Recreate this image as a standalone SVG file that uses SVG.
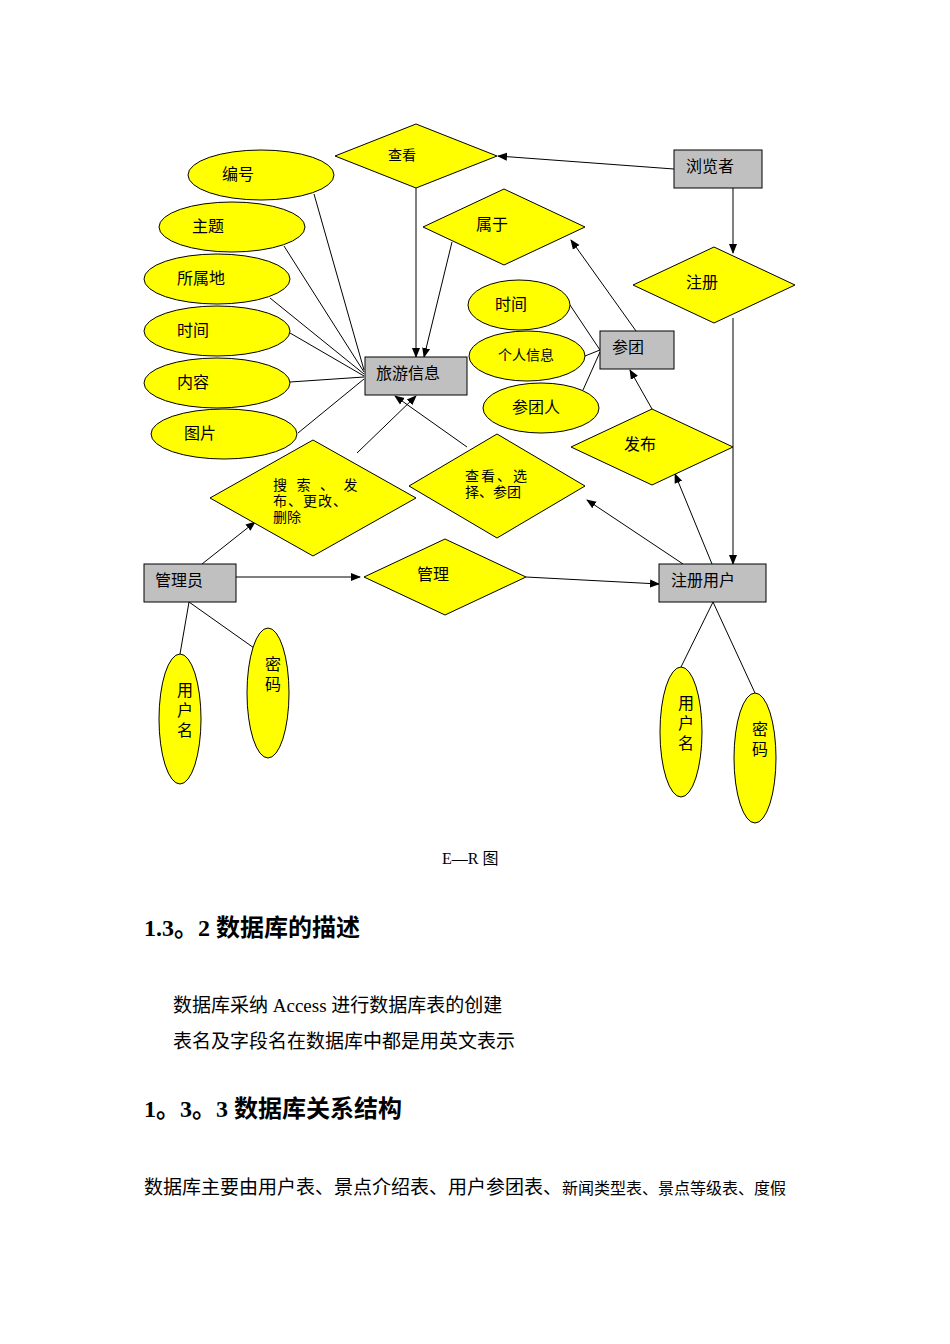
<svg xmlns="http://www.w3.org/2000/svg" width="950" height="1344" viewBox="0 0 950 1344">
<style>
.e{fill:#ffff00;stroke:#000;stroke-width:1}
.r{fill:#c0c0c0;stroke:#000;stroke-width:1}
.t{font-family:"Liberation Serif","Noto Sans CJK SC",serif;font-size:16px;fill:#000}
.s{font-family:"Liberation Serif","Noto Sans CJK SC",serif;font-size:14px;fill:#000}
.h{font-family:"Liberation Serif","Noto Sans CJK SC",serif;font-size:24px;font-weight:bold;fill:#000}
.b{font-family:"Liberation Serif","Noto Sans CJK SC",serif;font-size:19px;fill:#000}
#c line{stroke:#000;stroke-width:1}
.a{marker-end:url(#ar)}
</style>
<defs><marker id="ar" markerWidth="10" markerHeight="10" refX="9" refY="5" orient="auto" markerUnits="userSpaceOnUse"><path d="M0,1 L10,5 L0,9 Z" fill="#000"/></marker></defs>
<rect width="950" height="1344" fill="#fff"/>
<g id="c">
<line x1="314" y1="194" x2="364" y2="370"/><line x1="284" y1="246" x2="364" y2="372"/><line x1="270" y1="298" x2="364" y2="374"/><line x1="290" y1="333" x2="364" y2="376"/><line x1="290" y1="382" x2="364" y2="377"/><line x1="298" y1="433" x2="364" y2="379"/>
<line class="a" x1="416" y1="188" x2="416" y2="357"/>
<line class="a" x1="452" y1="242" x2="424" y2="357"/>
<line class="a" x1="674" y1="169" x2="498" y2="156"/>
<line class="a" x1="733" y1="188" x2="733" y2="253"/>
<line class="a" x1="733" y1="318" x2="733" y2="564"/>
<line class="a" x1="636" y1="331" x2="571" y2="240"/>
<line x1="570" y1="305" x2="600" y2="350"/><line x1="585" y1="356" x2="600" y2="350"/><line x1="583" y1="390" x2="600" y2="352"/>
<line class="a" x1="652" y1="409" x2="630" y2="370"/>
<line class="a" x1="712" y1="564" x2="675" y2="474"/>
<line class="a" x1="683" y1="564" x2="587" y2="500"/>
<line class="a" x1="467" y1="447" x2="395" y2="396"/>
<line class="a" x1="357" y1="453" x2="416" y2="396"/>
<line class="a" x1="202" y1="564" x2="255" y2="522"/>
<line class="a" x1="232" y1="577" x2="360" y2="577"/>
<line class="a" x1="526" y1="577" x2="659" y2="584"/>
<line x1="189" y1="602" x2="180" y2="654"/><line x1="189" y1="602" x2="254" y2="648"/>
<line x1="713" y1="602" x2="681" y2="667"/><line x1="713" y1="602" x2="755" y2="693"/>
</g>
<g id="n1"><ellipse class="e" cx="261" cy="175" rx="73" ry="25"/><text class="t" x="222" y="180">编号</text></g>
<g id="n2"><ellipse class="e" cx="232" cy="227" rx="73" ry="25"/><text class="t" x="192" y="232">主题</text></g>
<g id="n3"><ellipse class="e" cx="217" cy="279" rx="73" ry="25"/><text class="t" x="177" y="284">所属地</text></g>
<g id="n4"><ellipse class="e" cx="217" cy="331" rx="73" ry="25"/><text class="t" x="177" y="336">时间</text></g>
<g id="n5"><ellipse class="e" cx="217" cy="383" rx="73" ry="25"/><text class="t" x="177" y="388">内容</text></g>
<g id="n6"><ellipse class="e" cx="224" cy="434" rx="73" ry="25"/><text class="t" x="184" y="439">图片</text></g>
<g id="n7"><rect class="r" x="365" y="357" width="102" height="38"/><text class="t" x="376" y="379">旅游信息</text></g>
<g id="n8"><polygon class="e" points="335,156 416,124 497,156 416,188"/><text class="s" x="388" y="160">查看</text></g>
<g id="n9"><polygon class="e" points="423,227 504,189 585,227 504,265"/><text class="t" x="476" y="230">属于</text></g>
<g id="n10"><rect class="r" x="674" y="150" width="88" height="38"/><text class="t" x="686" y="172">浏览者</text></g>
<g id="n11"><polygon class="e" points="633,285 714,247 795,285 714,323"/><text class="t" x="686" y="288">注册</text></g>
<g id="n12"><ellipse class="e" cx="519" cy="305" rx="51" ry="25"/><text class="t" x="495" y="310">时间</text></g>
<g id="n13"><ellipse class="e" cx="527" cy="356" rx="58" ry="25"/><text class="s" x="498" y="360">个人信息</text></g>
<g id="n14"><ellipse class="e" cx="541" cy="408" rx="58" ry="25"/><text class="t" x="512" y="413">参团人</text></g>
<g id="n15"><rect class="r" x="600" y="331" width="74" height="38"/><text class="t" x="612" y="353">参团</text></g>
<g id="n16"><polygon class="e" points="571,447 652,409 733,447 652,485"/><text class="t" x="624" y="450">发布</text></g>
<g id="n17"><polygon class="e" points="210,498 313,440 416,498 313,556"/><text class="s" x="273" y="490" letter-spacing="3">搜 索 、 发</text><text class="s" x="273" y="506" letter-spacing="1">布、更改、</text><text class="s" x="273" y="522">删除</text></g>
<g id="n18"><polygon class="e" points="409,486 497,434 585,486 497,538"/><text class="s" x="465" y="481" letter-spacing="2">查看、选</text><text class="s" x="465" y="497">择、参团</text></g>
<g id="n19"><rect class="r" x="144" y="564" width="92" height="38"/><text class="t" x="155" y="586">管理员</text></g>
<g id="n20"><polygon class="e" points="364,577 445,539 526,577 445,615"/><text class="t" x="417" y="580">管理</text></g>
<g id="n21"><rect class="r" x="659" y="564" width="107" height="38"/><text class="t" x="671" y="586">注册用户</text></g>
<g id="n22"><ellipse class="e" cx="180" cy="719" rx="21" ry="65"/><text class="t" x="177" y="696">用</text><text class="t" x="177" y="716">户</text><text class="t" x="177" y="736">名</text></g>
<g id="n23"><ellipse class="e" cx="268" cy="693" rx="21" ry="65"/><text class="t" x="265" y="670">密</text><text class="t" x="265" y="690">码</text></g>
<g id="n24"><ellipse class="e" cx="681" cy="732" rx="21" ry="65"/><text class="t" x="678" y="709">用</text><text class="t" x="678" y="729">户</text><text class="t" x="678" y="749">名</text></g>
<g id="n25"><ellipse class="e" cx="755" cy="758" rx="21" ry="65"/><text class="t" x="752" y="735">密</text><text class="t" x="752" y="755">码</text></g>
<text class="t" x="442" y="864">E—R 图</text>
<text class="h" x="144" y="936">1.3。2 数据库的描述</text>
<text class="b" x="173" y="1012">数据库采纳 Access 进行数据库表的创建</text>
<text class="b" x="173" y="1048">表名及字段名在数据库中都是用英文表示</text>
<text class="h" x="144" y="1117">1。3。3 数据库关系结构</text>
<text class="b" x="144" y="1194">数据库主要由用户表、景点介绍表、用户参团表、<tspan font-size="16">新闻类型表、景点等级表、度假</tspan></text>
</svg>
